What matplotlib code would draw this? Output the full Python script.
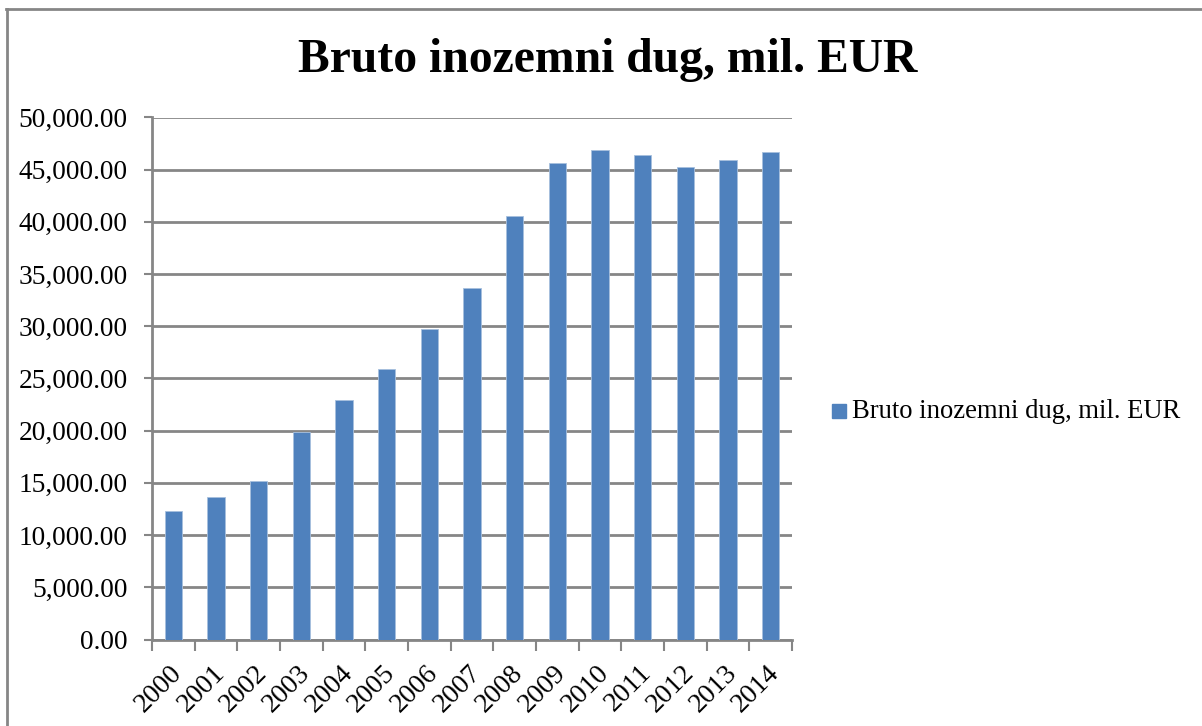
import matplotlib
matplotlib.use("Agg")
import matplotlib.pyplot as plt
from matplotlib.lines import Line2D
from matplotlib.patches import Rectangle
from matplotlib.transforms import ScaledTranslation

years = ["2000", "2001", "2002", "2003", "2004", "2005", "2006", "2007",
         "2008", "2009", "2010", "2011", "2012", "2013", "2014"]
debt = [12280, 13620, 15150, 19880, 22940, 25940, 29710, 33700,
        40570, 45610, 46890, 46410, 45290, 45930, 46700]
series_name = "Bruto inozemni dug, mil. EUR"
title = "Bruto inozemni dug, mil. EUR"
yticks = list(range(0, 50001, 5000))

plt.rcParams['font.family'] = ['Liberation Serif', 'DejaVu Serif']

W, H = 1202, 726
fig = plt.figure(figsize=(W / 100, H / 100), dpi=100)
ax = fig.add_axes([152 / W, 1 - 639.5 / H, (792 - 152) / W, (639.5 - 117.5) / H])

grey = "#868686"
bar_color = "#4F81BD"
x = list(range(len(years)))
ax.bar(x, debt, width=0.4, color=bar_color, edgecolor="#A7C0DE", linewidth=0.6, zorder=3)

ax.set_xlim(-0.5, len(years) - 0.5)
ax.set_ylim(0, 50000)
ax.set_yticks(yticks)
ax.set_yticklabels([f"{v:,.2f}" for v in yticks], fontsize=19.7)
ax.yaxis.grid(True, color=grey, linewidth=2, zorder=0)
ax.set_axisbelow(True)

# x ticks at category boundaries, labels at centres
ax.set_xticks([i - 0.5 for i in range(len(years) + 1)])
ax.set_xticklabels([])
ax.set_xticks(x, minor=True)
ax.set_xticklabels(years, minor=True, rotation=45, ha="right", va="top",
                   rotation_mode="anchor", fontsize=20)
ax.tick_params(axis="x", which="major", length=8, width=1.5, color=grey, direction="out")
ax.tick_params(axis="x", which="minor", length=0, pad=15)
ax.tick_params(axis="y", length=6, width=1.5, color=grey, direction="out", pad=11.5)
shift = ScaledTranslation(-4 / 100, 0, fig.dpi_scale_trans)
for lbl in ax.get_xticklabels(minor=True):
    lbl.set_transform(lbl.get_transform() + shift)

for s in ["top", "right"]:
    ax.spines[s].set_visible(False)
for s in ["left", "bottom"]:
    ax.spines[s].set_color(grey)
    ax.spines[s].set_linewidth(2)

fig.text(608 / W, 1 - 60 / H, title, ha="center", va="center",
         fontsize=34.3, fontweight="bold")

# legend
fig.patches.append(Rectangle((832 / W, 1 - 418 / H), 14 / W, 14 / H,
                             transform=fig.transFigure, color=bar_color))
fig.text(852 / W, 1 - 412 / H, series_name, ha="left", va="center", fontsize=19.2)

# outer frame (top and left edges visible)
fig.add_artist(Line2D([6 / W, 1.0], [1 - 9 / H, 1 - 9 / H], transform=fig.transFigure,
                      color=grey, linewidth=2))
fig.add_artist(Line2D([7 / W, 7 / W], [0, 1 - 9 / H], transform=fig.transFigure,
                      color=grey, linewidth=2))

fig.savefig("out.png", dpi=100, facecolor="white")
